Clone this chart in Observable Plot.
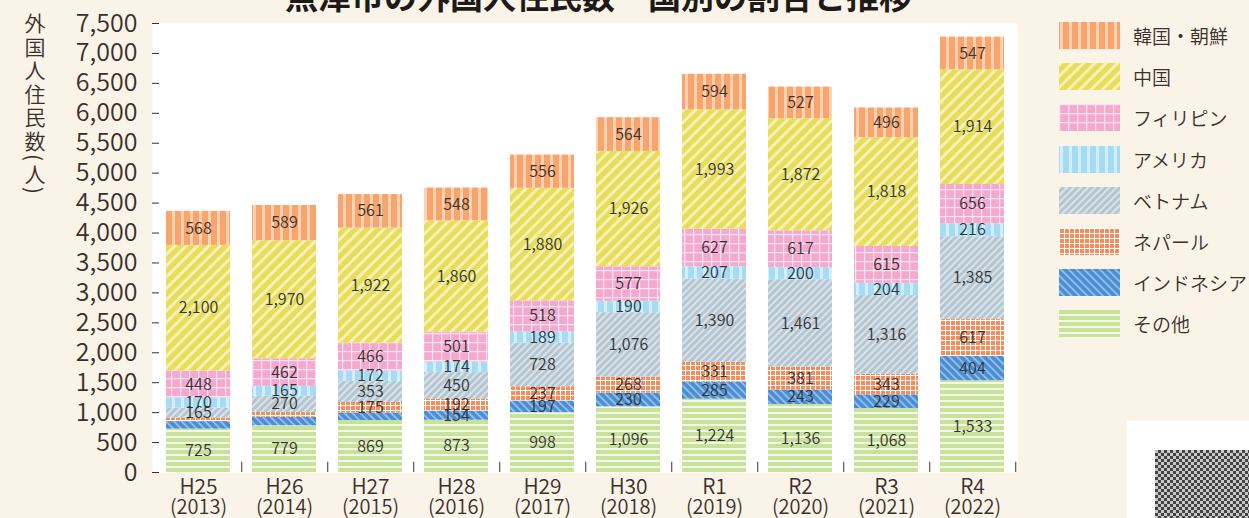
<!DOCTYPE html>
<html>
<head>
<meta charset="utf-8">
<script src="https://cdn.jsdelivr.net/npm/d3@7"></script>
<script src="https://cdn.jsdelivr.net/npm/@observablehq/plot@0.6"></script>
<style>
  html, body { margin: 0; padding: 0; background: #faf3e8; width: 1249px; height: 518px; overflow: hidden; }
  body { position: relative; font-family: "Noto Sans CJK JP DemiLight", "Noto Sans CJK JP Light", "Noto Sans CJK JP", "Noto Sans", sans-serif; font-weight: 300; color: #3a302b; }
  #chart { position: absolute; left: 0; top: 0; }
  #title { position: absolute; left: 285px; top: -21px; font-family: "Noto Sans CJK JP", sans-serif; font-size: 33px; font-weight: bold; color: #1e1a18; white-space: nowrap; line-height: 33px; }
  #ylabel { position: absolute; left: 24px; top: 13px; writing-mode: vertical-rl; font-size: 21px; letter-spacing: 2.5px; line-height: 22px; color: #3a302b; }
  #legend { position: absolute; left: 1059px; top: 22px; }
  .item { position: absolute; left: 0; height: 27px; width: 190px; }
  .item svg { position: absolute; left: 0; top: 0; }
  .item span { position: absolute; left: 74px; top: 0; font-size: 19px; line-height: 27px; white-space: nowrap; color: #3a302b; }
  #qr { position: absolute; left: 1127px; top: 421px; width: 122px; height: 97px; background: #fff; }
  #qr div { position: absolute; left: 28px; top: 29px; width: 94px; height: 68px;
    background: repeating-conic-gradient(#444 0 25%, #c8c8c8 0 50%) 0 0 / 6px 6px; }
  svg text { font-weight: 300; }
</style>
</head>
<body>
<svg width="0" height="0" style="position:absolute">
  <defs>
    <pattern id="p-korea" width="9" height="10" patternUnits="userSpaceOnUse">
      <rect width="9" height="10" fill="#f7a46d"/>
      <rect x="1" width="3" height="10" fill="#fcd2b3"/>
    </pattern>
    <pattern id="p-china" width="8" height="8" patternUnits="userSpaceOnUse" patternTransform="rotate(45)">
      <rect width="8" height="8" fill="#e8dc5b"/>
      <rect width="3" height="8" fill="#f6f1b4"/>
    </pattern>
    <pattern id="p-phil" width="9" height="9" patternUnits="userSpaceOnUse">
      <rect width="9" height="9" fill="#f5a9cf"/>
      <rect width="9" height="1.2" fill="#fde4f0"/>
      <rect width="1.2" height="9" fill="#fde4f0"/>
    </pattern>
    <pattern id="p-usa" width="9" height="10" patternUnits="userSpaceOnUse">
      <rect width="9" height="10" fill="#a6dbf6"/>
      <rect x="1" width="3" height="10" fill="#d3effc"/>
    </pattern>
    <pattern id="p-viet" width="5" height="5" patternUnits="userSpaceOnUse" patternTransform="rotate(45)">
      <rect width="5" height="5" fill="#b5c6d0"/>
      <rect width="2" height="5" fill="#d9e3e9"/>
    </pattern>
    <pattern id="p-nepal" width="5" height="5" patternUnits="userSpaceOnUse">
      <rect width="5" height="5" fill="#f68b5c"/>
      <rect width="5" height="1" fill="#ffffff"/>
      <rect width="1" height="5" fill="#ffffff"/>
    </pattern>
    <pattern id="p-indo" width="5.5" height="5.5" patternUnits="userSpaceOnUse" patternTransform="rotate(-45)">
      <rect width="5.5" height="5.5" fill="#4a8dd2"/>
      <rect width="2" height="5.5" fill="#90bde9"/>
    </pattern>
    <pattern id="p-other" width="10" height="6" patternUnits="userSpaceOnUse">
      <rect width="10" height="6" fill="#f3f9e8"/>
      <rect width="10" height="4" fill="#c8e29a"/>
    </pattern>
  </defs>
</svg>
<div id="chart"></div>
<div id="title">魚津市の外国人住民数―国別の割合と推移</div>
<div id="ylabel">外国人住民数(人)</div>
<div id="legend"></div>
<div id="qr"><div></div></div>
<script>
// ---- data ----
const eras = ["H25", "H26", "H27", "H28", "H29", "H30", "R1", "R2", "R3", "R4"];
const years = ["2013", "2014", "2015", "2016", "2017", "2018", "2019", "2020", "2021", "2022"];
// stacking order, bottom to top
const countries = ["その他", "インドネシア", "ネパール", "ベトナム", "アメリカ", "フィリピン", "中国", "韓国・朝鮮"];
const other       = [725, 779, 869, 873, 998, 1096, 1224, 1136, 1068, 1533];
const indonesia   = [125, 145, 125, 154, 197, 230, 285, 243, 229, 404];
const nepal       = [60, 80, 175, 192, 237, 268, 331, 381, 343, 617];
const vietnam     = [165, 270, 353, 450, 728, 1076, 1390, 1461, 1316, 1385];
const usa         = [170, 165, 172, 174, 189, 190, 207, 200, 204, 216];
const philippines = [448, 462, 466, 501, 518, 577, 627, 617, 615, 656];
const china       = [2100, 1970, 1922, 1860, 1880, 1926, 1993, 1872, 1818, 1914];
const korea       = [568, 589, 561, 548, 556, 564, 594, 527, 496, 547];
const yTicks = [0, 500, 1000, 1500, 2000, 2500, 3000, 3500, 4000, 4500, 5000, 5500, 6000, 6500, 7000, 7500];
// segments too thin to carry a label in the original
const unlabeled = [["H25", "インドネシア"], ["H25", "ネパール"], ["H26", "インドネシア"], ["H26", "ネパール"], ["H27", "インドネシア"]];

const series = [other, indonesia, nepal, vietnam, usa, philippines, china, korea];
const patterns = ["url(#p-other)", "url(#p-indo)", "url(#p-nepal)", "url(#p-viet)", "url(#p-usa)", "url(#p-phil)", "url(#p-china)", "url(#p-korea)"];

const rows = [];
eras.forEach((era, i) => {
  let acc = 0;
  countries.forEach((c, k) => {
    const v = series[k][i];
    rows.push({era, country: c, value: v, y1: acc, y2: acc + v, mid: acc + v / 2, fill: patterns[k],
      show: !unlabeled.some(([e, cc]) => e === era && cc === c)});
    acc += v;
  });
});
const yearOf = Object.fromEntries(eras.map((e, i) => [e, years[i]]));
const fmt = d3.format(",");
const ink = "#3a302b";
const fontFam = "'Noto Sans CJK JP DemiLight', 'Noto Sans CJK JP Light', 'Noto Sans CJK JP', 'Noto Sans', sans-serif";

const chart = Plot.plot({
  width: 1249,
  height: 518,
  marginLeft: 152,
  marginRight: 232,
  marginTop: 23,
  marginBottom: 46,
  style: {background: "transparent", fontFamily: fontFam, overflow: "visible"},
  x: {domain: eras, paddingInner: 0.26, paddingOuter: 0.13},
  y: {domain: [0, 7500]},
  color: {type: "identity"},
  marks: [
    Plot.frame({fill: "white", stroke: null}),
    Plot.barY(rows, {x: "era", y1: "y1", y2: "y2", fill: "fill"}),
    Plot.text(rows.filter(d => d.show), {x: "era", y: "mid", text: d => fmt(d.value), fontSize: 16, fill: "#333"}),
    Plot.axisY({ticks: yTicks, tickFormat: fmt, fontSize: 25, tickSize: -7, tickPadding: 22, line: true, label: null, color: ink}),
    Plot.axisX({tickSize: 0, tickPadding: 7, fontSize: 21, line: true, label: null, color: ink}),
    Plot.axisX({tickSize: 0, tickPadding: 27, fontSize: 20, tickFormat: d => "(" + yearOf[d] + ")", label: null, color: ink}),
    // category separators on the baseline (half a band to the right of each category)
    Plot.ruleX(eras, {x: d => d, dx: 43.25, y1: 0, y2: 170, stroke: ink})
  ]
});
document.getElementById("chart").appendChild(chart);

// legend (top to bottom = reverse stacking order)
const legend = document.getElementById("legend");
const legendCountries = countries.slice().reverse();
const legendPatterns = patterns.slice().reverse();
legendCountries.forEach((c, i) => {
  const item = document.createElement("div");
  item.className = "item";
  item.style.top = (i * 41.2) + "px";
  item.innerHTML = `<svg width="61" height="27"><rect width="61" height="27" fill="${legendPatterns[i]}"/></svg><span>${c}</span>`;
  legend.appendChild(item);
});
</script>
</body>
</html>
